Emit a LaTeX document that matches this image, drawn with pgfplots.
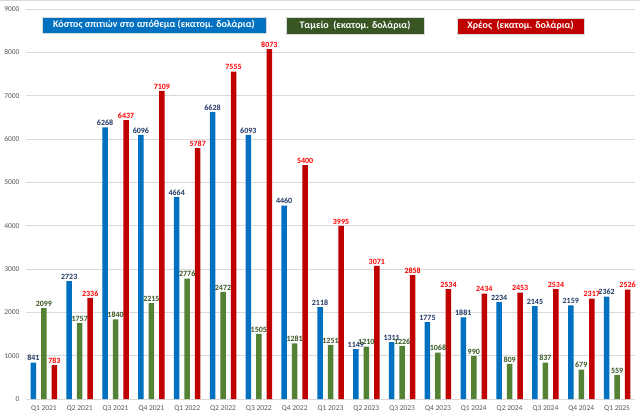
\documentclass[border=0pt]{standalone}
\usepackage{fontspec}
\setmainfont{Carlito}
\usepackage{pgfplots}
\usepackage{pgfplotstable}
\pgfplotsset{compat=1.18}
\definecolor{cblue}{HTML}{0070C0}
\definecolor{cgreen}{HTML}{548235}
\definecolor{cred}{HTML}{C00000}
\definecolor{cnavy}{HTML}{203864}
\definecolor{cdgreen}{HTML}{375623}
\definecolor{clabred}{HTML}{FF0000}
\definecolor{cgrid}{HTML}{D9D9D9}
\definecolor{ctick}{HTML}{595959}
\pgfplotstableread{
x y
0 841
1 2723
2 6268
3 6096
4 4664
5 6628
6 6093
7 4460
8 2118
9 1149
10 1311
11 1775
12 1881
13 2234
14 2145
15 2159
16 2362
}\houses
\pgfplotstableread{
x y
0 2099
1 1757
2 1840
3 2215
4 2776
5 2472
6 1505
7 1281
8 1251
9 1210
10 1226
11 1068
12 990
13 809
14 837
15 679
16 559
}\cash
\pgfplotstableread{
x y
0 783
1 2336
2 6437
3 7109
4 5787
5 7555
6 8073
7 5400
8 3995
9 3071
10 2858
11 2534
12 2434
13 2453
14 2534
15 2317
16 2526
}\debt
\begin{document}
\begin{tikzpicture}[x=1pt,y=1pt]
\path[use as bounding box, fill=white] (0,0) rectangle (640,418);
\draw[cgrid, line width=0.8pt] (0,417.6) -- (640,417.6);
\begin{axis}[
  at={(26pt,19pt)}, anchor=south west,
  scale only axis, width=609pt, height=390pt,
  xmin=-0.5, xmax=16.5, ymin=0, ymax=9000,
  ybar=5pt, bar width=5.5pt,
  axis line style={draw=none},
  ytick={0,1000,...,9000},
  ymajorgrids, grid style={draw=cgrid, line width=0.8pt},
  xtick={0,...,16},
  xticklabels={Q1 2021,Q2 2021,Q3 2021,Q4 2021,Q1 2022,Q2 2022,Q3 2022,Q4 2022,Q1 2023,Q2 2023,Q3 2023,Q4 2023,Q1 2024,Q2 2024,Q3 2024,Q4 2024,Q1 2025},
  major tick length=0pt,
  tick style={draw=none},
  ticklabel style={font=\fontsize{7.5}{8}\selectfont, text=ctick},
  xticklabel style={yshift=-3pt},
  yticklabel style={xshift=-3pt},
  /pgf/number format/assume math mode=true,
  /pgf/number format/1000 sep={},
  nodes near coords,
  every node near coord/.append style={font=\bfseries\fontsize{8}{8}\selectfont, inner sep=1.5pt},
]
\addplot[fill=cblue, draw=none, every node near coord/.append style={text=cnavy}] table[x=x,y=y]{\houses};
\addplot[fill=cgreen, draw=none, every node near coord/.append style={text=cdgreen}] table[x=x,y=y]{\cash};
\addplot[fill=cred, draw=none, every node near coord/.append style={text=clabred}] table[x=x,y=y]{\debt};
\end{axis}
\node[fill=cblue, draw=cgrid, line width=0.8pt, minimum width=224pt, minimum height=16pt, inner sep=0pt, text=white, font=\bfseries\fontsize{10}{10}\selectfont] at (154,393) {Κόστος σπιτιών στο απόθεμα (εκατομ. δολάρια)};
\node[fill=cdgreen, draw=cgrid, line width=0.8pt, minimum width=138pt, minimum height=17pt, inner sep=0pt, text=white, font=\bfseries\fontsize{10}{10}\selectfont] at (355,392.5) {Ταμείο\ \ (εκατομ. δολάρια)};
\node[fill=cred, draw=cgrid, line width=0.8pt, minimum width=127pt, minimum height=16pt, inner sep=0pt, text=white, font=\bfseries\fontsize{10}{10}\selectfont] at (520.5,392) {Χρέος\ \ (εκατομ. δολάρια)};
\end{tikzpicture}
\end{document}
